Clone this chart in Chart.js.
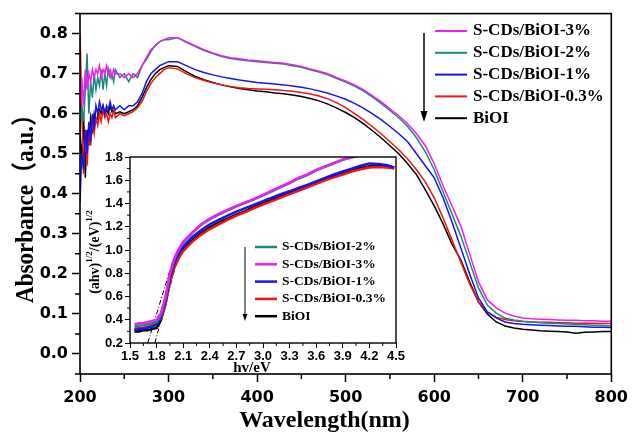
<!DOCTYPE html>
<html>
<head>
<meta charset="utf-8">
<script src="https://cdn.jsdelivr.net/npm/chart.js@4.4.0/dist/chart.umd.min.js"></script>
<style>
html, body { margin: 0; padding: 0; background: #fff; }
#wrap { position: relative; width: 634px; height: 432px; }
#main { position: absolute; left: 0; top: 0; }
#inset { position: absolute; left: 75px; top: 145px; }
</style>
</head>
<body>
<div id="wrap">
  <canvas id="main" width="634" height="432"></canvas>
  <canvas id="inset" width="335" height="235"></canvas>
</div>
<script>
// ---- main panel: UV-vis absorbance ----
const wavelength = [200,202,204,206,208,210,212,214,216,218,220,222,224,226,228,230,232,234,236,238,240,
  245,250,255,260,265,270,275,280,285,290,295,300,
  310,320,330,340,350,360,370,380,390,400,410,420,430,440,450,460,470,480,490,500,
  510,520,530,540,550,560,570,580,590,600,610,620,630,640,650,660,670,680,690,700,
  710,720,730,740,750,760,770,780,790,800];

const absCD3 = [0.60,0.69,0.62,0.71,0.66,0.70,0.68,0.71,0.69,0.71,0.70,0.72,0.69,0.71,0.70,0.72,0.70,0.71,0.69,0.71,0.70,
  0.70,0.69,0.70,0.69,0.70,0.72,0.74,0.76,0.77,0.78,0.785,0.79,
  0.79,0.78,0.77,0.76,0.752,0.745,0.74,0.737,0.734,0.732,0.73,0.728,0.726,0.722,0.718,0.712,0.706,0.70,0.69,0.682,
  0.672,0.66,0.645,0.63,0.612,0.595,0.575,0.55,0.52,0.475,0.42,0.37,0.32,0.25,0.18,0.135,0.115,0.102,0.095,0.09,
  0.088,0.087,0.086,0.085,0.084,0.084,0.083,0.083,0.082,0.082];
const absCD2 = [0.55,0.62,0.58,0.66,0.75,0.60,0.68,0.64,0.70,0.66,0.69,0.67,0.71,0.66,0.70,0.67,0.71,0.69,0.70,0.68,0.71,
  0.69,0.70,0.68,0.70,0.69,0.72,0.735,0.755,0.77,0.78,0.785,0.785,
  0.79,0.778,0.768,0.758,0.75,0.743,0.738,0.735,0.732,0.73,0.728,0.726,0.724,0.72,0.716,0.71,0.704,0.697,0.688,0.679,
  0.669,0.657,0.642,0.626,0.608,0.59,0.568,0.54,0.505,0.46,0.405,0.35,0.295,0.23,0.165,0.122,0.102,0.09,0.085,0.082,
  0.08,0.078,0.077,0.076,0.075,0.074,0.073,0.072,0.071,0.07];
const absCD1 = [0.38,0.50,0.46,0.56,0.50,0.58,0.53,0.60,0.56,0.62,0.60,0.63,0.61,0.62,0.60,0.62,0.61,0.63,0.61,0.62,0.61,
  0.62,0.61,0.62,0.62,0.63,0.65,0.68,0.70,0.71,0.72,0.725,0.73,
  0.73,0.72,0.71,0.703,0.697,0.692,0.688,0.684,0.681,0.678,0.676,0.674,0.672,0.669,0.666,0.662,0.657,0.651,0.644,0.636,
  0.626,0.614,0.60,0.585,0.568,0.55,0.53,0.50,0.47,0.44,0.39,0.33,0.265,0.20,0.14,0.105,0.09,0.08,0.076,0.074,
  0.073,0.072,0.071,0.07,0.069,0.069,0.068,0.067,0.067,0.066];
const absCD03 = [0.80,0.62,0.45,0.55,0.47,0.56,0.52,0.58,0.55,0.59,0.57,0.60,0.58,0.61,0.59,0.60,0.58,0.60,0.59,0.61,0.59,
  0.60,0.595,0.60,0.605,0.615,0.63,0.655,0.675,0.69,0.70,0.71,0.715,
  0.712,0.70,0.69,0.683,0.677,0.672,0.668,0.665,0.663,0.662,0.661,0.66,0.658,0.656,0.653,0.649,0.644,0.637,0.627,0.615,
  0.60,0.585,0.568,0.55,0.53,0.51,0.487,0.46,0.43,0.39,0.34,0.285,0.23,0.175,0.13,0.105,0.092,0.086,0.083,0.081,
  0.08,0.079,0.079,0.078,0.078,0.077,0.077,0.077,0.076,0.076];
const absBiOI = [0.55,0.48,0.60,0.44,0.56,0.52,0.59,0.56,0.60,0.58,0.59,0.61,0.60,0.62,0.60,0.61,0.60,0.62,0.605,0.61,0.60,
  0.605,0.60,0.605,0.61,0.62,0.64,0.665,0.685,0.70,0.71,0.715,0.72,
  0.718,0.705,0.693,0.685,0.678,0.672,0.667,0.663,0.66,0.657,0.655,0.652,0.65,0.647,0.643,0.638,0.632,0.624,0.614,0.603,
  0.59,0.575,0.558,0.54,0.52,0.50,0.475,0.448,0.41,0.37,0.325,0.275,0.235,0.18,0.13,0.10,0.08,0.07,0.065,0.062,
  0.06,0.058,0.057,0.056,0.055,0.052,0.054,0.055,0.056,0.056];

// ---- inset: Tauc plot ----
const photonEnergy = [1.55,1.6,1.65,1.7,1.75,1.8,1.85,1.9,1.95,2.0,2.05,2.1,
  2.2,2.3,2.4,2.5,2.6,2.7,2.8,2.9,3.0,3.1,3.2,3.3,3.4,3.5,3.6,3.7,3.8,3.9,4.0,4.1,4.2,4.3,4.4,4.48];
const tauc3 = [0.36,0.37,0.37,0.38,0.39,0.40,0.46,0.60,0.80,0.93,1.01,1.07,
  1.15,1.22,1.27,1.31,1.345,1.38,1.41,1.44,1.475,1.51,1.545,1.58,1.62,1.65,1.69,1.72,1.75,1.78,1.80,1.82,1.83,1.84,1.85,1.85];
const tauc2 = [0.34,0.35,0.35,0.36,0.37,0.38,0.44,0.58,0.79,0.92,1.005,1.065,
  1.145,1.215,1.265,1.305,1.34,1.375,1.405,1.435,1.47,1.505,1.54,1.575,1.615,1.645,1.685,1.715,1.745,1.775,1.795,1.815,1.825,1.835,1.845,1.845];
const tauc1 = [0.31,0.32,0.32,0.33,0.34,0.36,0.42,0.56,0.76,0.89,0.97,1.03,
  1.11,1.17,1.22,1.26,1.295,1.33,1.36,1.39,1.42,1.45,1.48,1.505,1.535,1.56,1.59,1.62,1.65,1.675,1.70,1.725,1.745,1.74,1.73,1.71];
const tauc03 = [0.32,0.33,0.33,0.34,0.35,0.37,0.41,0.53,0.72,0.85,0.93,0.99,
  1.07,1.13,1.18,1.22,1.26,1.295,1.325,1.36,1.39,1.42,1.45,1.48,1.51,1.54,1.57,1.60,1.625,1.65,1.675,1.695,1.71,1.715,1.71,1.70];
const taucBiOI = [0.30,0.30,0.31,0.31,0.32,0.33,0.40,0.54,0.74,0.87,0.95,1.01,
  1.085,1.145,1.195,1.235,1.27,1.305,1.335,1.37,1.40,1.43,1.46,1.49,1.52,1.55,1.58,1.61,1.635,1.66,1.685,1.705,1.72,1.725,1.72,1.71];
// band-gap tangent lines (x, y)
const tangentA = [[1.70, 0.20], [1.98, 0.90]];
const tangentB = [[1.78, 0.20], [2.02, 0.88]];

const labels = ['S-CDs/BiOI-3%', 'S-CDs/BiOI-2%', 'S-CDs/BiOI-1%', 'S-CDs/BiOI-0.3%', 'BiOI'];
const colors = ['#f01cf0', '#168a7c', '#1414f0', '#f01414', '#000000'];

const serif = '"Liberation Serif", "Times New Roman", "Noto Sans CJK SC", serif';

function pts(xs, ys) {
  return xs.map((x, i) => ({ x: x, y: ys[i] }));
}

// major ticks coloured, minor ones hidden (drawn shorter by the plugin)
function majorColor(c) {
  return (c.tick && c.tick.label !== '') ? '#000' : 'rgba(0,0,0,0)';
}

// frame, minor ticks, legend, arrow and axis titles
const deco = {
  id: 'deco',
  beforeDraw(chart, args, o) {
    const a = chart.chartArea, ctx = chart.ctx;
    ctx.save();
    ctx.fillStyle = '#fff';
    ctx.fillRect(a.left, a.top, a.right - a.left, a.bottom - a.top);
    ctx.restore();
  },
  afterDraw(chart, args, o) {
    const ctx = chart.ctx, a = chart.chartArea;
    const xs = chart.scales.x, ys = chart.scales.y;
    ctx.save();
    ctx.strokeStyle = '#000';
    ctx.lineWidth = o.frame;
    ctx.strokeRect(a.left, a.top, a.right - a.left, a.bottom - a.top);

    ctx.lineWidth = o.tickW;
    ctx.beginPath();
    xs.ticks.forEach(t => {
      if (t.label !== '') return;
      const p = xs.getPixelForValue(t.value);
      ctx.moveTo(p, a.bottom); ctx.lineTo(p, a.bottom + o.minor);
    });
    ys.ticks.forEach(t => {
      if (t.label !== '') return;
      const p = ys.getPixelForValue(t.value);
      ctx.moveTo(a.left, p); ctx.lineTo(a.left - o.minor, p);
    });
    ctx.stroke();

    // legend
    const L = o.legend;
    ctx.font = L.font;
    ctx.textBaseline = 'middle';
    ctx.textAlign = 'left';
    L.order.forEach((idx, k) => {
      const ds = chart.data.datasets[idx];
      const y = L.y + k * L.dy;
      ctx.strokeStyle = ds.borderColor;
      ctx.lineWidth = L.lw;
      ctx.beginPath(); ctx.moveTo(L.x, y); ctx.lineTo(L.x + L.len, y); ctx.stroke();
      ctx.fillStyle = '#000';
      ctx.fillText(ds.label, L.x + L.len + L.gap, y);
    });

    // arrow
    const A = o.arrow;
    ctx.strokeStyle = '#000';
    ctx.fillStyle = '#000';
    ctx.lineWidth = A.w;
    ctx.beginPath(); ctx.moveTo(A.x, A.y1); ctx.lineTo(A.x, A.y2 - A.head); ctx.stroke();
    ctx.beginPath();
    ctx.moveTo(A.x - A.half, A.y2 - A.head);
    ctx.lineTo(A.x + A.half, A.y2 - A.head);
    ctx.lineTo(A.x, A.y2);
    ctx.closePath(); ctx.fill();

    // titles
    o.titles.forEach(T => {
      ctx.save();
      ctx.translate(T.x, T.y);
      ctx.rotate(T.rot);
      ctx.textBaseline = T.base;
      ctx.textAlign = 'left';
      let w = 0;
      T.parts.forEach(p => { ctx.font = p.font; w += ctx.measureText(p.t).width; });
      const scale = T.maxW ? Math.min(1, T.maxW / w) : 1;
      ctx.scale(scale, 1);
      let cx = -w / 2;
      T.parts.forEach(p => {
        ctx.font = p.font;
        ctx.fillText(p.t, cx, -(p.rise || 0));
        cx += ctx.measureText(p.t).width;
      });
      ctx.restore();
    });
    ctx.restore();
  }
};

// ---------------- main chart ----------------
const mainSets = [absCD3, absCD2, absCD1, absCD03, absBiOI].map((vals, i) => ({
  label: labels[i],
  data: pts(wavelength, vals),
  borderColor: colors[i],
  borderWidth: 1.5,
  pointRadius: 0,
  tension: 0
}));

new Chart(document.getElementById('main'), {
  type: 'line',
  data: { datasets: mainSets },
  options: {
    responsive: false,
    animation: false,
    devicePixelRatio: 1,
    layout: { padding: { left: 0, right: 19, top: 10, bottom: 0 } },
    plugins: {
      legend: { display: false },
      tooltip: { enabled: false },
      deco: {
        frame: 1.6, tickW: 1.5, minor: 5,
        legend: { order: [0, 1, 2, 3, 4], x: 435, y: 31, dy: 21.8, len: 32, gap: 6, lw: 2, font: 'bold 17px ' + serif },
        arrow: { x: 424, y1: 33, y2: 122, w: 1.5, head: 11, half: 3.5 },
        titles: [
          { x: 324.5, y: 427, rot: 0, base: 'alphabetic', maxW: 171,
            parts: [{ t: 'Wavelength(nm)', font: 'bold 24px ' + serif }] },
          { x: 33, y: 203, rot: -Math.PI / 2, base: 'alphabetic', maxW: 200,
            parts: [{ t: 'Absorbance（a.u.）', font: 'bold 26px ' + serif }] }
        ]
      }
    },
    scales: {
      x: {
        type: 'linear', min: 200, max: 800,
        afterFit: s => { s.height = 58; },
        border: { display: false },
        grid: { drawOnChartArea: false, tickLength: 8, tickWidth: 1.5, tickColor: majorColor },
        ticks: {
          stepSize: 50, autoSkip: false, maxRotation: 0, padding: 6, color: '#000',
          font: { family: 'DejaVu Sans', weight: 'bold', size: 16 },
          callback: v => (v % 100 === 0 ? String(v) : '')
        }
      },
      y: {
        type: 'linear', min: -0.05, max: 0.85,
        afterFit: s => { s.width = 80; },
        border: { display: false },
        grid: { drawOnChartArea: false, tickLength: 8, tickWidth: 1.5, tickColor: majorColor },
        ticks: {
          stepSize: 0.05, autoSkip: false, padding: 4, color: '#000',
          font: { family: 'DejaVu Sans', weight: 'bold', size: 16 },
          callback: v => (Math.round(v * 100) % 10 === 0 ? v.toFixed(1) : '')
        }
      }
    }
  },
  plugins: [deco]
});

// ---------------- inset chart ----------------
const insetSets = [tauc3, tauc2, tauc1, tauc03, taucBiOI].map((vals, i) => ({
  label: labels[i],
  data: pts(photonEnergy, vals),
  borderColor: colors[i],
  borderWidth: 2.5,
  pointRadius: 0,
  tension: 0
}));
[tangentA, tangentB].forEach((seg, i) => {
  insetSets.push({
    label: 'tangent' + i,
    data: seg.map(p => ({ x: p[0], y: p[1] })),
    borderColor: '#000',
    borderWidth: 1,
    borderDash: [5, 2, 1, 2],
    pointRadius: 0
  });
});

new Chart(document.getElementById('inset'), {
  type: 'line',
  data: { datasets: insetSets },
  options: {
    responsive: false,
    animation: false,
    devicePixelRatio: 1,
    layout: { padding: { left: 0, right: 14, top: 12, bottom: 0 } },
    plugins: {
      legend: { display: false },
      tooltip: { enabled: false },
      deco: {
        frame: 1.4, tickW: 1, minor: 3,
        legend: { order: [1, 0, 2, 3, 4], x: 180, y: 102, dy: 17.3, len: 22, gap: 5, lw: 2.5, font: 'bold 13.5px ' + serif },
        arrow: { x: 170, y1: 102, y2: 176, w: 1, head: 7, half: 2.5 },
        titles: [
          { x: 177, y: 227, rot: 0, base: 'alphabetic', maxW: 46,
            parts: [{ t: 'hv/eV', font: 'bold 15px ' + serif }] },
          { x: 20, y: 107, rot: -Math.PI / 2, base: 'middle', maxW: 86,
            parts: [
              { t: '(ahv)', font: 'bold 14px ' + serif },
              { t: '1/2', font: 'bold 9px ' + serif, rise: 5 },
              { t: '/(eV)', font: 'bold 14px ' + serif },
              { t: '1/2', font: 'bold 9px ' + serif, rise: 5 }
            ] }
        ]
      }
    },
    scales: {
      x: {
        type: 'linear', min: 1.5, max: 4.5,
        afterFit: s => { s.height = 37; },
        border: { display: false },
        grid: { drawOnChartArea: false, tickLength: 5, tickWidth: 1, tickColor: majorColor },
        ticks: {
          stepSize: 0.15, autoSkip: false, maxRotation: 0, padding: 1, color: '#000',
          font: { family: 'Liberation Sans', weight: 'bold', size: 13 },
          callback: v => (Math.round(v * 100) % 30 === 0 ? v.toFixed(1) : '')
        }
      },
      y: {
        type: 'linear', min: 0.2, max: 1.8,
        afterFit: s => { s.width = 55; },
        border: { display: false },
        grid: { drawOnChartArea: false, tickLength: 5, tickWidth: 1, tickColor: majorColor },
        ticks: {
          stepSize: 0.1, autoSkip: false, padding: 2, color: '#000',
          font: { family: 'Liberation Sans', weight: 'bold', size: 13 },
          callback: v => (Math.round(v * 10) % 2 === 0 ? v.toFixed(1) : '')
        }
      }
    }
  },
  plugins: [deco]
});
</script>
</body>
</html>
